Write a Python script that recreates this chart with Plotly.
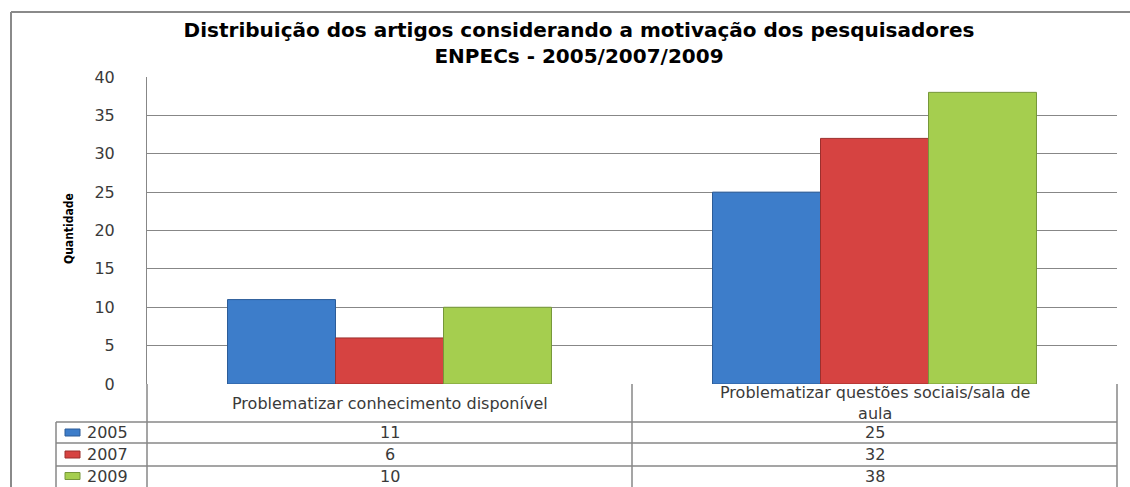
import plotly.graph_objects as go

# data
categories = ["Problematizar conhecimento disponível",
              "Problematizar questões sociais/sala de aula"]
category_labels = ["Problematizar conhecimento disponível",
                   "Problematizar questões sociais/sala de<br>aula"]
years = ["2005", "2007", "2009"]
values_2005 = [11, 25]
values_2007 = [6, 32]
values_2009 = [10, 38]
series = [values_2005, values_2007, values_2009]

fills = ["#3D7DCA", "#D64341", "#A5CE4F"]
edges = ["#2C5C98", "#9C2F2D", "#76973A"]
grid = "#878787"
txt = "#3a3a3a"

fig = go.Figure()
for year, vals, fc, ec in zip(years, series, fills, edges):
    fig.add_trace(go.Bar(x=categories, y=vals, name=year,
                         marker=dict(color=fc, line=dict(color=ec, width=1)),
                         showlegend=False))

fig.update_layout(
    width=1130, height=487,
    margin=dict(l=147, r=13, t=77, b=103),
    paper_bgcolor="white", plot_bgcolor="white",
    barmode="group", bargap=0.332, bargroupgap=0,
    title=dict(text="Distribuição dos artigos considerando a motivação dos pesquisadores<br>ENPECs - 2005/2007/2009",
               x=579 / 1130, xanchor="center", xref="container",
               y=1 - 37 / 487, yanchor="middle", yref="container",
               font=dict(family="DejaVu Sans", size=20, color="black", weight="bold")),
    font=dict(family="DejaVu Sans", size=16, color=txt),
)
fig.update_xaxes(showticklabels=False, showgrid=False, showline=False,
                 zeroline=False, ticks="")
fig.update_yaxes(range=[0, 40], dtick=5, showgrid=True, gridcolor=grid,
                 gridwidth=1, showline=True, linecolor=grid, linewidth=1,
                 zeroline=False, ticks="", ticklabelstandoff=28,
                 tickfont=dict(family="DejaVu Sans", size=16, color=txt))

# table geometry in paper coords
def px_x(px):
    return (px - 147) / 970

def px_y(py):
    return (384 - py) / 307

bottom = px_y(490)
row_lines = [px_y(422), px_y(443), px_y(466)]
row_centers = [px_y(432.5), px_y(454.5), px_y(476)]

shapes = []
line = dict(color=grid, width=1.5)
for xv in [0, 0.5, 1]:
    shapes.append(dict(type="line", xref="paper", yref="paper",
                       x0=xv, x1=xv, y0=0, y1=bottom, line=line))
shapes.append(dict(type="line", xref="paper", yref="paper",
                   x0=px_x(56), x1=px_x(56), y0=row_lines[0], y1=bottom, line=line))
for yv in row_lines:
    shapes.append(dict(type="line", xref="paper", yref="paper",
                       x0=px_x(56), x1=1, y0=yv, y1=yv, line=line))
# outer chart border
border = dict(color="#8a8a8a", width=2)
shapes.append(dict(type="line", xref="paper", yref="paper",
                   x0=px_x(11), x1=px_x(11), y0=px_y(12), y1=bottom, line=border))
shapes.append(dict(type="line", xref="paper", yref="paper",
                   x0=px_x(11), x1=px_x(1130), y0=px_y(12), y1=px_y(12), line=border))
# legend keys
for yc, fc, ec in zip(row_centers, fills, edges):
    shapes.append(dict(type="rect", xref="paper", yref="paper",
                       x0=px_x(65), x1=px_x(80), y0=yc - 3.5 / 307, y1=yc + 3.5 / 307,
                       fillcolor=fc, line=dict(color=ec, width=1)))

annotations = []
for cat, lab in zip(categories, category_labels):
    annotations.append(dict(x=cat, xref="x", y=px_y(403), yref="paper",
                            text=lab, showarrow=False, yanchor="middle",
                            font=dict(size=16, color=txt)))
for yc, year, vals in zip(row_centers, years, series):
    annotations.append(dict(x=px_x(85), xref="paper", y=yc, yref="paper",
                            text=year, showarrow=False, xanchor="left",
                            yanchor="middle", font=dict(size=16, color=txt)))
    for cat, v in zip(categories, vals):
        annotations.append(dict(x=cat, xref="x", y=yc, yref="paper",
                                text=str(v), showarrow=False, yanchor="middle",
                                font=dict(size=16, color=txt)))
annotations.append(dict(x=px_x(60), xref="paper", y=px_y(229), yref="paper",
                        text="Quantidade", textangle=-90, showarrow=False,
                        font=dict(family="DejaVu Sans Condensed", size=12,
                                  color="black", weight="bold")))

fig.update_layout(shapes=shapes, annotations=annotations)
fig.write_html("out.html", config={"displayModeBar": False},
               post_script="document.body.style.margin='0px';")
